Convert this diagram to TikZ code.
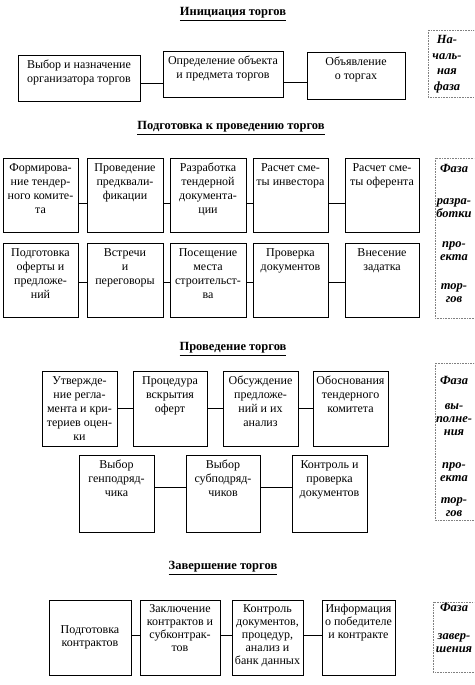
\documentclass[tikz,border=0pt]{standalone}
\usepackage{fontspec}
\setmainfont{Liberation Serif}
\tikzset{
  bx/.style={draw, line width=0.8pt, inner sep=0pt, font=\fontsize{12}{14}\selectfont},
  conn/.style={line width=0.8pt},
  phase/.style={draw=gray, densely dotted, line width=0.6pt},
  ttl/.style={font=\bfseries\fontsize{12.5}{14}\selectfont, inner sep=0pt},
  ph/.style={font=\bfseries\itshape\fontsize{12.5}{13}\selectfont, inner sep=0pt, anchor=base}
}
\newcommand\tb[3]{\vbox to #2pt{\kern3.5pt\hbox to #1pt{\hss\begin{tabular}[t]{@{}c@{}}#3\end{tabular}\hss}\vss}}
\newcommand\tc[3]{\vbox to #2pt{\vss\hbox to #1pt{\hss\begin{tabular}{@{}c@{}}#3\end{tabular}\hss}\vss}}
\newcommand\link[3]{\path ([yshift=#3]#1.east) coordinate (tmp); \draw[conn] (tmp) -- (tmp -| #2.west);}
\begin{document}
\begin{tikzpicture}[x=1pt,y=-1pt]
\useasboundingbox (0,0) rectangle (474,685);
\fill[white] (0,0) rectangle (474,685);
\clip (0,0) rectangle (474,685);

% titles
\node[ttl] (t1) at (233,14) {\underline{Инициация торгов}};
\node[ttl] (t2) at (231,128) {\underline{Подготовка к проведению торгов}};
\node[ttl] (t3) at (233,349) {\underline{Проведение торгов}};
\node[ttl] (t4) at (223,568) {\underline{Завершение торгов}};

% initiation
\node[bx] (i1) at (79,78) {\tb{122}{46}{Выбор и назначение\\организатора торгов}};
\node[bx] (i2) at (223,74) {\tb{120}{46}{Определение объекта\\и предмета торгов}};
\node[bx] (i3) at (356,75.5) {\tb{98}{47}{Объявление\\о торгах}};
\link{i1}{i2}{-5pt}
\link{i2}{i3}{-8pt}

% preparation row 1
\node[bx] (p1) at (40.5,195) {\tb{75}{74}{Формирова-\\ние тендер-\\ного комите-\\та}};
\node[bx] (p2) at (125,195) {\tb{76}{74}{Проведение\\предквали-\\фикации}};
\node[bx] (p3) at (208,195) {\tb{76}{74}{Разработка\\тендерной\\документа-\\ции}};
\node[bx] (p4) at (290.5,195) {\tb{75}{74}{Расчет сме-\\ты инвестора}};
\node[bx] (p5) at (382,195) {\tb{74}{74}{Расчет сме-\\ты оферента}};
\link{p1}{p2}{-8pt}
\link{p2}{p3}{-8pt}
\link{p3}{p4}{-8pt}
\link{p4}{p5}{-8pt}

% preparation row 2
\node[bx] (q1) at (40.5,280) {\tb{75}{74}{Подготовка\\оферты и\\предложе-\\ний}};
\node[bx] (q2) at (125,280) {\tb{76}{74}{Встречи\\и\\переговоры}};
\node[bx] (q3) at (208,280) {\tb{76}{74}{Посещение\\места\\строительст-\\ва}};
\node[bx] (q4) at (290.5,280) {\tb{75}{74}{Проверка\\документов}};
\node[bx] (q5) at (382,280) {\tb{74}{74}{Внесение\\задатка}};
\link{q1}{q2}{-2pt}
\link{q2}{q3}{-2pt}
\link{q3}{q4}{-2pt}
\link{q4}{q5}{-2pt}

% conducting row 1
\node[bx] (c1) at (79.5,408.5) {\tb{75}{75}{Утвержде-\\ние регла-\\мента и кри-\\териев оцен-\\ки}};
\node[bx] (c2) at (170,408.5) {\tb{74}{75}{Процедура\\вскрытия\\оферт}};
\node[bx] (c3) at (260.5,408.5) {\tb{75}{75}{Обсуждение\\предложе-\\ний и их\\анализ}};
\node[bx] (c4) at (350.5,408.5) {\tb{75}{75}{Обоснования\\тендерного\\комитета}};
\link{c1}{c2}{0pt}
\link{c2}{c3}{0pt}
\link{c3}{c4}{0pt}

% conducting row 2
\node[bx] (d1) at (116.5,493.5) {\tb{75}{77}{Выбор\\генподряд-\\чика}};
\node[bx] (d2) at (223,493.5) {\tb{74}{77}{Выбор\\субподряд-\\чиков}};
\node[bx] (d3) at (329.5,493.5) {\tb{75}{77}{Контроль и\\проверка\\документов}};
\link{d1}{d2}{6.5pt}
\link{d2}{d3}{6.5pt}

% completion
\node[bx, font=\fontsize{12}{13}\selectfont] (e1) at (90,637.5) {\tc{82}{75}{Подготовка\\контрактов}};
\node[bx, font=\fontsize{12}{13}\selectfont] (e2) at (180,637.5) {\tb{80}{75}{Заключение\\контрактов и\\субконтрак-\\тов}};
\node[bx, font=\fontsize{12}{13}\selectfont] (e3) at (267.5,637.5) {\tb{71}{75}{Контроль\\документов,\\процедур,\\анализ и\\банк данных}};
\node[bx, font=\fontsize{12}{13}\selectfont] (e4) at (358.5,637.5) {\tb{73}{75}{Информация\\о победителе\\и контракте}};
\link{e1}{e2}{2.5pt}
\link{e2}{e3}{2.5pt}
\link{e3}{e4}{2.5pt}

% phase boxes
\draw[phase] (428,30) rectangle (490,97);
\draw[phase] (435,158) rectangle (490,318);
\draw[phase] (435,363) rectangle (490,520);
\draw[phase] (433,602) rectangle (490,672);

\node[ph, font=\bfseries\itshape\fontsize{12.5}{15.5}\selectfont] (f1) at (447,44) {\begin{tabular}[t]{@{}c@{}}На-\\чаль-\\ная\\фаза\end{tabular}};
\node[ph] (f2) at (454,172) {\begin{tabular}[t]{@{}c@{}}Фаза\\[19pt]разра-\\ботки\\[17pt]про-\\екта\\[16pt]тор-\\гов\end{tabular}};
\node[ph] (f3) at (454,384) {\begin{tabular}[t]{@{}c@{}}Фаза\\[12pt]вы-\\полне-\\ния\\[20pt]про-\\екта\\[9pt]тор-\\гов\end{tabular}};
\node[ph] (f4) at (454,611) {\begin{tabular}[t]{@{}c@{}}Фаза\\[15pt]завер-\\шения\end{tabular}};
\end{tikzpicture}
\end{document}
